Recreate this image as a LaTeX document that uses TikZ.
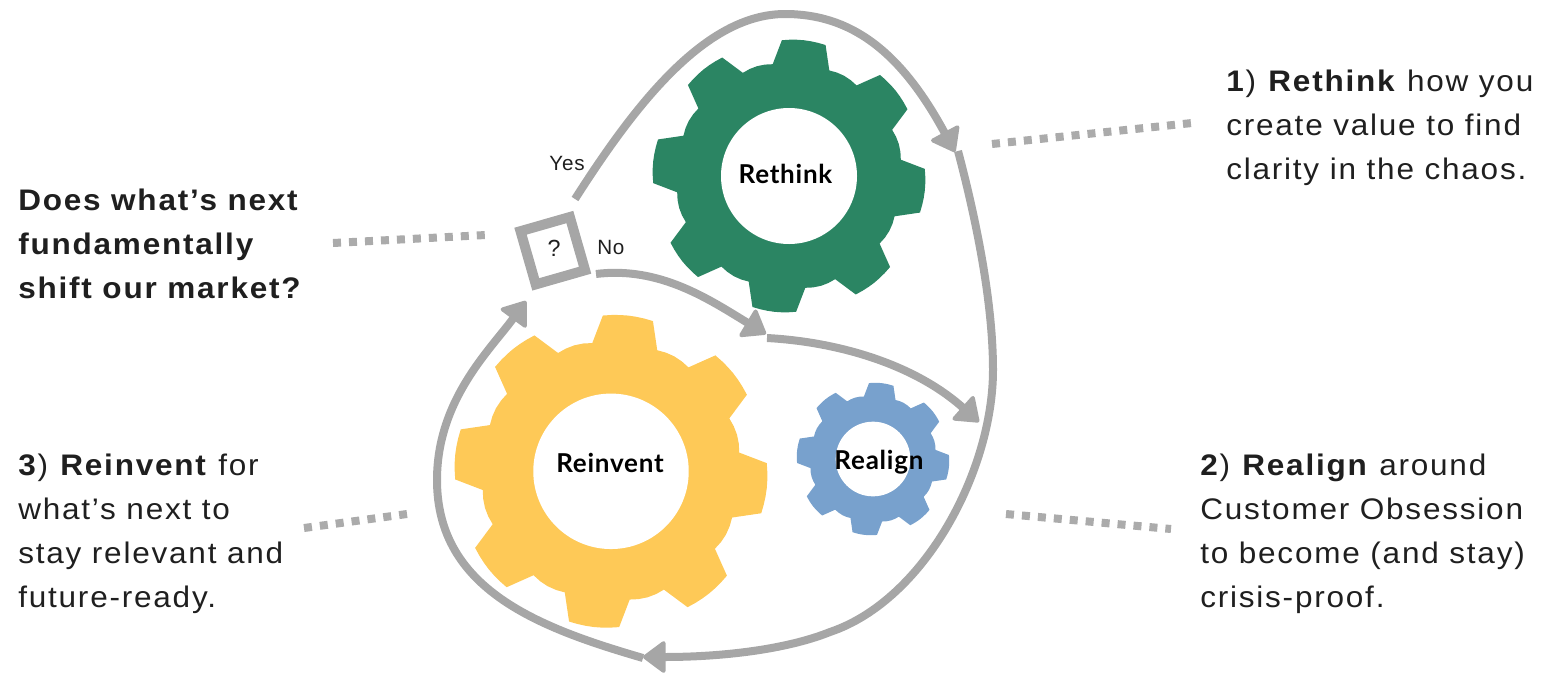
\documentclass[tikz,border=0pt]{standalone}
\usepackage{fontspec}
\usetikzlibrary{arrows.meta}
\setmainfont[LetterSpace=6,FakeStretch=1.06]{Liberation Sans}
\newfontfamily\smallfont[LetterSpace=4]{Liberation Sans}
\newfontfamily\gearfont[LetterSpace=3]{Lato}
\definecolor{linegray}{HTML}{A6A6A6}
\definecolor{dotgray}{HTML}{ABABAB}
\definecolor{geargreen}{HTML}{2B8563}
\definecolor{gearyellow}{HTML}{FEC957}
\definecolor{gearblue}{HTML}{78A1CD}
\definecolor{ink}{HTML}{1F1F1F}
\tikzset{
  flow/.style={draw=linegray,line width=6pt,line join=round},
  headed/.style={flow,-{Triangle[length=18pt,width=26pt,line width=3pt,round]}},
  dotted leader/.style={draw=dotgray,line width=6pt,dash pattern=on 6pt off 6pt},
  body/.style={align=left,inner sep=0pt,anchor=base west,text=ink,font=\fontsize{22.3}{33}\selectfont},
  small/.style={inner sep=0pt,anchor=base west,text=ink,font=\smallfont\fontsize{15.5}{18}\selectfont},
  gearlabel/.style={inner sep=0pt,anchor=base,text=black,font=\gearfont\bfseries\fontsize{19.5}{22}\selectfont},
  hub/.style={circle,fill=white,inner sep=0pt},
}
\newcommand{\gearbody}[4]{%
  \fill[#4,shift={(#1,#2)},scale=#3] (-98.3:113)
  \foreach \a in {-83.7,-38.7,6.3,51.3,96.3,141.3,186.3,231.3}{
    -- (\a-14.6:113) -- (\a-9.3:136) -- (\a-6:136.3) -- (\a-3:136.5) -- (\a:136.6) -- (\a+3:136.5) -- (\a+6:136.3) -- (\a+9.3:136) -- (\a+14.6:113)
    -- (\a+18.5:114) -- (\a+22.5:114.4) -- (\a+26.5:114)
  } -- cycle;}
\begin{document}
\begin{tikzpicture}[x=0.75pt,y=-0.75pt]
\useasboundingbox (0,0) rectangle (1547,672);
% gears
\gearbody{789}{176}{1}{geargreen}
\gearbody{611}{471.3}{1.147}{gearyellow}
\gearbody{873}{459}{0.559}{gearblue}
\node[hub,minimum size=102pt] (hubRethink) at (789,176) {};
\node[hub,minimum size=116.6pt] (hubReinvent) at (611,471.3) {};
\node[hub,minimum size=56pt] (hubRealign) at (873,459) {};
\node[gearlabel] (lblRethink) at (785.5,183) {Rethink};
\node[gearlabel] (lblReinvent) at (610,472) {Reinvent};
\node[gearlabel] (lblRealign) at (879,469) {Realign};
% decision box
\node[draw=linegray,line width=7.5pt,minimum width=38.5pt,minimum height=41.5pt,inner sep=0pt,rotate=16] (decision) at (552.8,250.7) {};
\node[small,anchor=base,font=\smallfont\fontsize{17.5}{20}\selectfont] (qmark) at (554,256) {?};
\node[small] (yes) at (549,170) {Yes};
\node[small] (no) at (597,254) {No};
% anchor coordinates
\coordinate (yesStart) at (575,199);
\coordinate (top) at (785,14);
\coordinate (tipA) at (955,152);
\coordinate (startB) at (958,151);
\coordinate (right) at (993,370);
\coordinate (low) at (830,632);
\coordinate (tipB) at (643,657);
\coordinate (startC) at (643,658);
\coordinate (left) at (437,480);
\coordinate (tipC) at (526,301);
\coordinate (noStart) at (596,274);
\coordinate (tipNo) at (766,334);
\coordinate (startD) at (767,338);
\coordinate (tipD) at (979,422);
% connectors
\draw[headed] (yesStart) .. controls (635,105) and (705,14) .. (top) .. controls (850,14) and (900,50) .. (tipA);
\draw[headed] (startB) .. controls (975,215) and (993,300) .. (right) .. controls (993,470) and (925,600) .. (low) .. controls (785,650) and (720,657) .. (tipB);
\draw[headed] (startC) .. controls (540,628) and (437,590) .. (left) .. controls (437,400) and (490,350) .. (tipC);
\draw[headed] (noStart) .. controls (660,266) and (710,300) .. (tipNo);
\draw[headed] (startD) .. controls (840,342) and (915,365) .. (tipD);
% leaders
\coordinate (l1a) at (992,144); \coordinate (l1b) at (1192,123);
\coordinate (l2a) at (1006,514); \coordinate (l2b) at (1171,529);
\coordinate (l3a) at (304,528); \coordinate (l3b) at (407,514);
\coordinate (l4a) at (333,243); \coordinate (l4b) at (486,235);
\draw[dotted leader] (l1a) -- (l1b);
\draw[dotted leader] (l2a) -- (l2b);
\draw[dotted leader] (l3a) -- (l3b);
\draw[dotted leader] (l4a) -- (l4b);
% text
\node[body] (t1) at (1226,179) {\textbf{1}) \textbf{Rethink} how you\\create value to find\\clarity in the chaos.};
\node[body] (t2) at (1200,607) {\textbf{2}) \textbf{Realign} around\\Customer Obsession\\to become (and stay)\\crisis-proof.};
\node[body] (t3) at (18,607) {\textbf{3}) \textbf{Reinvent} for\\what’s next to\\stay relevant and\\future-ready.};
\node[body,font=\fontsize{22.3}{33}\selectfont\bfseries] (t4) at (18,298) {Does what’s next\\fundamentally\\shift our market?};
\end{tikzpicture}
\end{document}
